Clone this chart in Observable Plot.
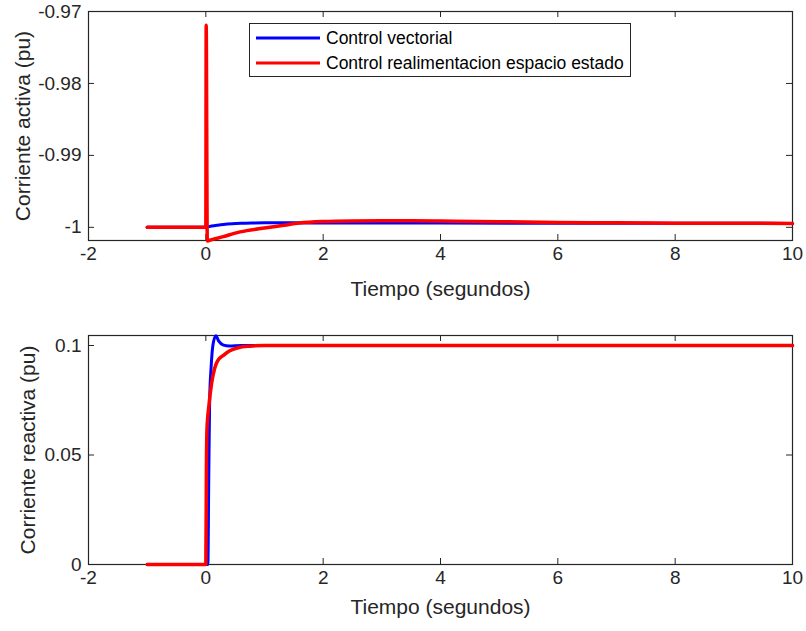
<!DOCTYPE html>
<html>
<head>
<meta charset="utf-8">
<script src="https://cdn.jsdelivr.net/npm/d3@7"></script>
<script src="https://cdn.jsdelivr.net/npm/@observablehq/plot@0.6"></script>
<style>
  html, body { margin: 0; padding: 0; background: #fff; }
  #wrap { position: relative; width: 806px; height: 631px; font-family: "Liberation Sans", Arial, sans-serif; }
  #top, #bottom { position: absolute; left: 0; }
  #top { top: 0; }
  #bottom { top: 315px; }
  #legend { position: absolute; left: 249px; top: 23px; width: 380px; height: 52px; border: 1px solid #262626; background: #fff; }
  .row { position: absolute; left: 0; height: 24px; display: flex; align-items: center; font-size: 17.5px; color: #000; white-space: nowrap; }
  .row svg { margin-left: 6px; margin-right: 6px; }
</style>
</head>
<body>
<div id="wrap">
  <div id="top"></div>
  <div id="bottom"></div>
  <div id="legend"></div>
</div>
<script>
// ---- data ----
const xTicks = [-2, 0, 2, 4, 6, 8, 10];
const topYTicks = [-1, -0.99, -0.98, -0.97];
const botYTicks = [0, 0.05, 0.1];
const seriesNames = ["Control vectorial", "Control realimentacion espacio estado"];
const seriesColors = ["#0000ff", "#ff0000"];

// Corriente activa - Control vectorial
const tActVec = [-1, 0, 0.02, 0.1, 0.2, 0.3, 0.45, 0.6, 0.8, 1.0, 1.5, 2, 3, 4, 6, 8, 10];
const iActVec = [-1.0, -1.0, -0.99995, -0.99982, -0.9997, -0.9996, -0.9995, -0.99944, -0.9994, -0.99938, -0.99938, -0.99939, -0.9994, -0.99941, -0.99943, -0.99944, -0.99945];
// Corriente activa - Control realimentacion espacio estado
const tActSS = [-1, 0, 0.006, 0.025, 0.1, 0.3, 0.5, 0.7, 1.0, 1.3, 1.6, 2.0, 2.5, 3.0, 3.5, 4.0, 5.0, 6.0, 7.0, 8.0, 10];
const iActSS = [-1.0, -1.0, -0.9719, -1.0019, -1.0017, -1.0013, -1.0008, -1.00046, -1.0001, -0.99975, -0.9994, -0.9992, -0.99912, -0.9991, -0.9991, -0.99913, -0.99922, -0.99933, -0.99938, -0.99942, -0.99945];

// Corriente reactiva - Control vectorial
const tReaVec = [-1, 0, 0.035, 0.05, 0.065, 0.09, 0.12, 0.17, 0.22, 0.3, 0.4, 0.6, 1, 10];
const iReaVec = [0, 0, 0, 0.04, 0.075, 0.09, 0.1, 0.1045, 0.102, 0.1002, 0.0998, 0.1, 0.1, 0.1];
// Corriente reactiva - Control realimentacion espacio estado
const tReaSS = [-1, 0, 0.01, 0.02, 0.05, 0.1, 0.15, 0.2, 0.3, 0.4, 0.55, 0.75, 1.0, 10];
const iReaSS = [0, 0, 0.045, 0.062, 0.072, 0.083, 0.0895, 0.093, 0.0955, 0.0975, 0.099, 0.0997, 0.1, 0.1];

const toRows = (t, v) => t.map((x, i) => ({t: x, v: v[i]}));
const fmt = d => String(+(+d).toFixed(2));
const ink = "#262626";

function panel({xs, ys, yDomain, yTicks, yLabel, yLabelDx, xLabelDy, marginTop, marginBottom, height}) {
  const plotH = height - marginTop - marginBottom;
  const plotW = 806 - 88 - 14;
  return Plot.plot({
    width: 806, height,
    marginLeft: 88, marginRight: 14, marginTop, marginBottom,
    x: {domain: [-2, 10]},
    y: {domain: yDomain},
    style: {fontFamily: "'Liberation Sans', Arial, sans-serif", fontSize: "19px", color: ink, background: "transparent", overflow: "visible"},
    marks: [
      Plot.axisX(xTicks, {tickSize: 0, tickPadding: 6, tickFormat: fmt, label: null, fontSize: 19, fill: ink}),
      Plot.axisY(yTicks, {tickSize: 0, tickPadding: 7, tickFormat: fmt, label: null, fontSize: 19, fill: ink}),
      Plot.tickX(xTicks, {x: d => d, insetTop: plotH - 6, stroke: ink}),
      Plot.tickX(xTicks, {x: d => d, insetBottom: plotH - 6, stroke: ink}),
      Plot.tickY(yTicks, {y: d => d, insetRight: plotW - 6, stroke: ink}),
      Plot.tickY(yTicks, {y: d => d, insetLeft: plotW - 6, stroke: ink}),
      Plot.frame({stroke: ink, strokeWidth: 1.2}),
      Plot.line(toRows(xs[0], ys[0]), {x: "t", y: "v", stroke: seriesColors[0], strokeWidth: 3, curve: "monotone-x"}),
      Plot.line(toRows(xs[1], ys[1]), {x: "t", y: "v", stroke: seriesColors[1], strokeWidth: 3.5, curve: "monotone-x"}),
      Plot.text(["Tiempo (segundos)"], {frameAnchor: "bottom", dy: xLabelDy, textAnchor: "middle", fontSize: 21, fill: ink}),
      Plot.text([yLabel], {frameAnchor: "left", dx: yLabelDx, rotate: -90, textAnchor: "middle", fontSize: 21, fill: ink})
    ]
  });
}

document.getElementById("top").append(panel({
  xs: [tActVec, tActSS], ys: [iActVec, iActSS],
  yDomain: [-1.00183, -0.97], yTicks: topYTicks,
  yLabel: "Corriente activa (pu)", yLabelDx: -65, xLabelDy: 55,
  marginTop: 11, marginBottom: 75, height: 315
}));

document.getElementById("bottom").append(panel({
  xs: [tReaVec, tReaSS], ys: [iReaVec, iReaSS],
  yDomain: [0, 0.10457], yTicks: botYTicks,
  yLabel: "Corriente reactiva (pu)", yLabelDx: -60, xLabelDy: 49,
  marginTop: 20, marginBottom: 67, height: 316
}));

// legend
const legend = document.getElementById("legend");
seriesNames.forEach((name, i) => {
  const row = document.createElement("div");
  row.className = "row";
  row.style.top = (2 + i * 25) + "px";
  row.innerHTML = `<svg width="64" height="6"><line x1="0" x2="64" y1="3" y2="3" stroke="${seriesColors[i]}" stroke-width="3"/></svg><span>${name}</span>`;
  legend.append(row);
});
</script>
</body>
</html>
